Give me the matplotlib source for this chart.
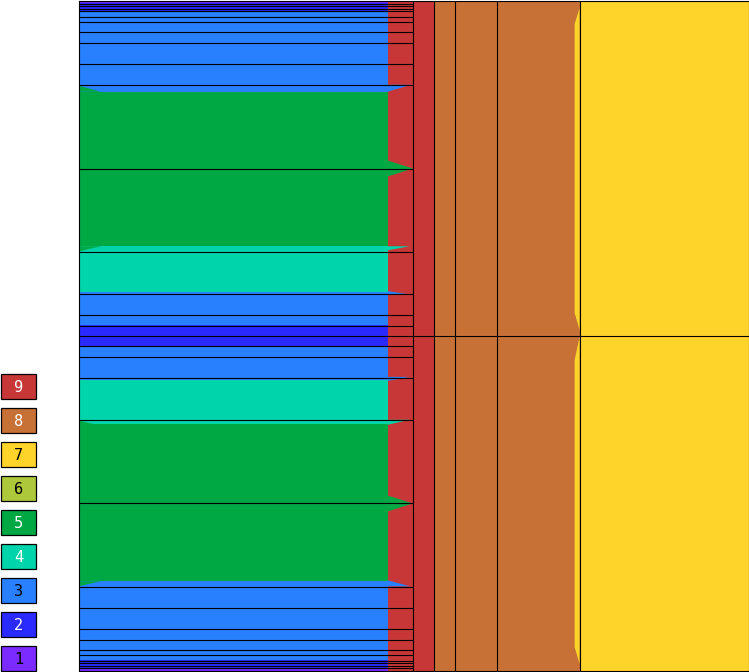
import numpy as np
import matplotlib
matplotlib.use('Agg')
import matplotlib.pyplot as plt
from matplotlib.colors import ListedColormap
from matplotlib.patches import Rectangle

# category colours 1..9
codes = [1, 2, 3, 4, 5, 6, 7, 8, 9]
code_colors = ['#7b2aff', '#2a2aff', '#2980ff', '#00d4aa', '#00a844',
               '#aec83b', '#ffd42a', '#c87137', '#c83737']
label_colors = ['black', 'white', 'black', 'white', 'white',
                'black', 'black', 'white', 'white']

# column layout (pixel units inside the plot), widths 16:1:1:2:4:8
col_edges = [0, 334, 355, 376, 418, 501, 670]
col_codes = [None, 9, 8, 8, 8, 7]
split_x = 309          # first column: bands left of this, red (9) to the right
split_code = 9

# horizontal bands of the first column
band_y = [0, 2, 11, 91, 246, 292, 325, 346, 380, 424, 582, 661, 669, 672]
band_code = [1, 2, 3, 5, 4, 3, 2, 3, 4, 5, 3, 2, 1]

# divider lines in the first column
h_lines = [2.6, 5.25, 7.9, 10.5, 15.75, 21, 31.5, 42, 63, 84, 168, 252, 294,
           315, 325.5, 346.5, 357, 378, 420, 504, 588, 609, 630, 640.5, 651,
           656.25, 661.5, 664.1, 666.75, 669.4]
mid_line = 336

# ramps where one category runs into the next
wedge_x = [[0, 22, 0], [309, 332, 309], [309, 334, 309], [0, 22, 0],
           [309, 331, 309], [309, 329, 309], [309, 331, 309], [309, 331, 309],
           [0, 22, 0], [309, 334, 309], [0, 22, 0], [309, 331, 309],
           [501, 496, 496, 501], [501, 496, 496, 501]]
wedge_y = [[85, 91, 91], [84, 84, 91], [160, 168, 176], [246, 246, 251],
           [246, 246, 250], [291, 294, 294], [377, 377, 381], [420, 420, 425],
           [426, 426, 421], [496, 504, 512], [582, 582, 587], [581, 587, 587],
           [7, 23, 313, 330], [337, 360, 648, 665]]
wedge_code = [5, 3, 5, 5, 4, 3, 3, 4, 5, 5, 5, 3, 7, 7]

W, H = col_edges[-1], band_y[-1]
grid = np.zeros((H, W), dtype=int)
for i in range(len(band_code)):
    grid[band_y[i]:band_y[i + 1], :split_x] = band_code[i] - 1
grid[:, split_x:col_edges[1]] = split_code - 1
for i in range(1, len(col_codes)):
    grid[:, col_edges[i]:col_edges[i + 1]] = col_codes[i] - 1

fig = plt.figure(figsize=(7.49, 6.72), dpi=100)
ax = fig.add_axes([79 / 749, 0.0015, 669.5 / 749, 0.997])
cmap = ListedColormap(code_colors)
ax.imshow(grid, cmap=cmap, vmin=-0.5, vmax=8.5, extent=[0, W, H, 0],
          aspect='auto', interpolation='nearest')

for xs, ys, c in zip(wedge_x, wedge_y, wedge_code):
    ax.fill(xs, ys, color=code_colors[c - 1], lw=0, zorder=2)

ax.hlines(h_lines, 0, col_edges[1], color='black', lw=0.8, zorder=3)
ax.hlines(mid_line, 0, W, color='black', lw=0.8, zorder=3)
ax.vlines(col_edges[1:-1], 0, H, color='black', lw=0.8, zorder=3)

ax.set_xlim(0, W)
ax.set_ylim(H, 0)
ax.set_xticks([])
ax.set_yticks([])
for s in ax.spines.values():
    s.set_linewidth(0.8)
    s.set_color('black')

# legend boxes on the left
lax = fig.add_axes([0, 0, 79 / 749, 1])
lax.set_xlim(0, 79)
lax.set_ylim(672, 0)
lax.axis('off')
for k in range(len(codes)):
    y0 = 646 - 34 * k
    lax.add_patch(Rectangle((1, y0), 35, 25, facecolor=code_colors[k],
                            edgecolor='black', lw=0.9))
    lax.text(18.5, y0 + 13, str(codes[k]), ha='center', va='center',
             fontsize=11, family='DejaVu Sans Mono', color=label_colors[k])

fig.savefig('out.png', dpi=100)
